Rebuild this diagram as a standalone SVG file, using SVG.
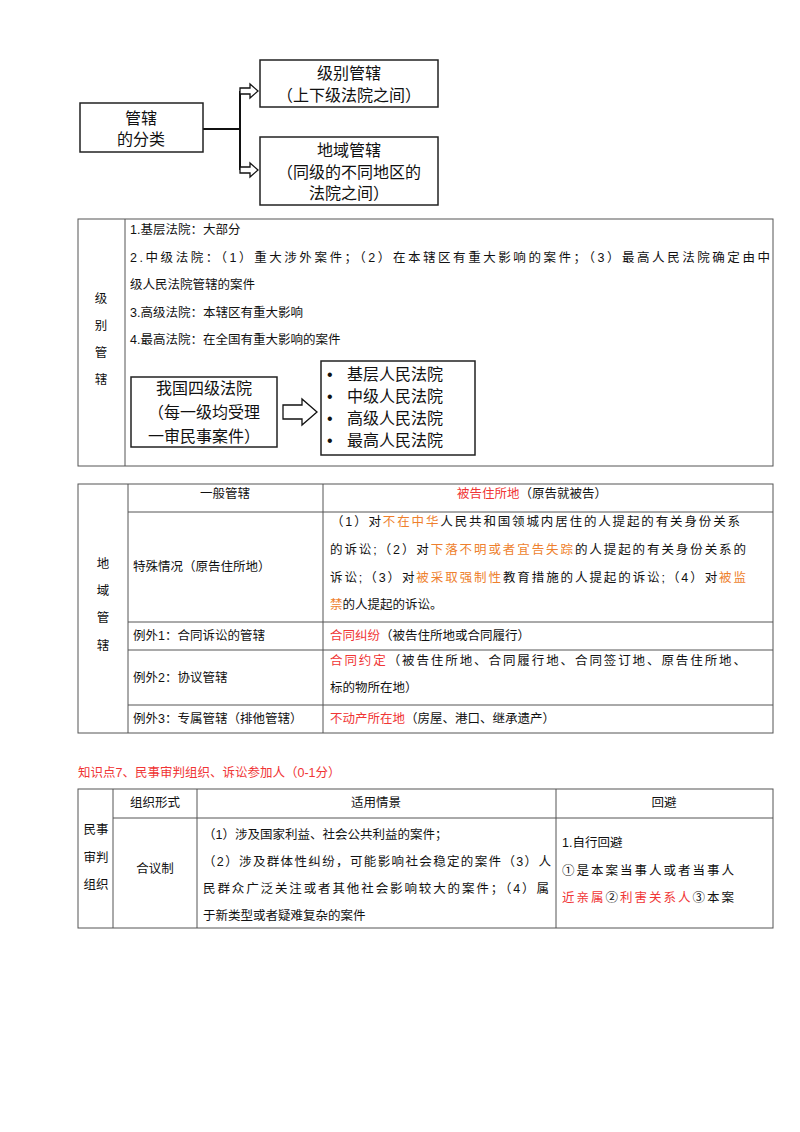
<svg xmlns="http://www.w3.org/2000/svg" width="800" height="1132" viewBox="0 0 800 1132">
<style>
.b{fill:#fff;stroke:#222;stroke-width:1.5}
.t{font-family:"Liberation Sans","Noto Sans CJK SC",sans-serif;fill:#111}
.big{font-size:16px}
.s{font-size:12.5px}
.g{fill:none;stroke:#555;stroke-width:1}
.o{fill:#EE7F2D}
.r{fill:#F03535}
.c{fill:none;stroke:#111;stroke-width:2}
.ar{fill:#fff;stroke:#111;stroke-width:1.3}
</style>
<rect width="800" height="1132" fill="#fff"/>
<g id="connectors">
<path class="c" d="M203 129H240M240 91V170"/>
<path class="ar" d="M240 88H250V84L258 91L250 98V94H240Z"/>
<path class="ar" d="M240 167H250V163L258 170L250 177V173H240Z"/>
</g>
<g id="n1"><rect class="b" x="80" y="103" width="123" height="49"/>
<text class="t big" text-anchor="middle" x="141" y="124">管辖</text><text class="t big" text-anchor="middle" x="141" y="145">的分类</text></g>
<g id="n2"><rect class="b" x="260" y="60" width="178" height="47"/>
<text class="t big" text-anchor="middle" x="349" y="79">级别管辖</text><text class="t big" text-anchor="middle" x="349" y="101">（上下级法院之间）</text></g>
<g id="n3"><rect class="b" x="260" y="137" width="178" height="68"/>
<text class="t big" text-anchor="middle" x="349" y="156">地域管辖</text><text class="t big" text-anchor="middle" x="349" y="178">（同级的不同地区的</text><text class="t big" text-anchor="middle" x="349" y="199">法院之间）</text></g>

<g id="table1">
<rect class="g" x="78" y="219" width="695" height="247"/><path class="g" d="M125 219V466"/>
<g class="t s" text-anchor="middle"><text x="101" y="303">级</text><text x="101" y="330">别</text><text x="101" y="357">管</text><text x="101" y="384">辖</text></g>
<g class="t s"><text x="130" y="234">1.基层法院：大部分</text>
<text x="130" y="262" textLength="640" lengthAdjust="spacing">2.中级法院：（1）重大涉外案件；（2）在本辖区有重大影响的案件；（3）最高人民法院确定由中</text>
<text x="130" y="289">级人民法院管辖的案件</text>
<text x="130" y="317">3.高级法院：本辖区有重大影响</text>
<text x="130" y="344">4.最高法院：在全国有重大影响的案件</text></g>
<rect class="b" x="131" y="377" width="146" height="70"/>
<g class="t big" text-anchor="middle"><text x="204" y="394">我国四级法院</text><text x="204" y="418">（每一级均受理</text><text x="204" y="442">一审民事案件）</text></g>
<path class="ar" d="M283 405H302V399L317 412L302 425V419H283Z"/>
<rect class="b" x="321" y="361" width="154" height="94"/>
<g class="t big"><text x="327" y="380">•</text><text x="327" y="402">•</text><text x="327" y="424">•</text><text x="327" y="446">•</text>
<text x="347" y="380">基层人民法院</text><text x="347" y="402">中级人民法院</text><text x="347" y="424">高级人民法院</text><text x="347" y="446">最高人民法院</text></g>
</g>

<g id="table2">
<rect class="g" x="78" y="484" width="695" height="249"/>
<path class="g" d="M128 484V733M323 484V733M128 512H773M128 622H773M128 650H773M128 705H773"/>
<g class="t s" text-anchor="middle"><text x="103" y="568">地</text><text x="103" y="595">域</text><text x="103" y="622">管</text><text x="103" y="650">辖</text>
<text x="225" y="498">一般管辖</text><text x="532" y="498"><tspan class="r">被告住所地</tspan>（原告就被告）</text></g>
<g class="t s">
<text x="133" y="571">特殊情况（原告住所地）</text>
<text x="331" y="526" textLength="409" lengthAdjust="spacing">（1）对<tspan class="o">不在中华</tspan>人民共和国领城内居住的人提起的有关身份关系</text>
<text x="330" y="554" textLength="416" lengthAdjust="spacing">的诉讼;（2）对<tspan class="o">下落不明或者宜告失踪</tspan>的人提起的有关身份关系的</text>
<text x="330" y="582" textLength="416" lengthAdjust="spacing">诉讼;（3）对<tspan class="o">被采取强制性</tspan>教育措施的人提起的诉讼;（4）对<tspan class="o">被监</tspan></text>
<text x="330" y="609"><tspan class="o">禁</tspan>的人提起的诉讼。</text>
<text x="133" y="640">例外1：合同诉讼的管辖</text>
<text x="330" y="640"><tspan class="r">合同纠纷</tspan>（被告住所地或合同履行）</text>
<text x="133" y="682">例外2：协议管辖</text>
<text x="330" y="665" textLength="416" lengthAdjust="spacing"><tspan class="r">合同约定</tspan>（被告住所地、合同履行地、合同签订地、原告住所地、</text>
<text x="330" y="692">标的物所在地）</text>
<text x="133" y="723">例外3：专属管辖（排他管辖）</text>
<text x="330" y="723"><tspan class="r">不动产所在地</tspan>（房屋、港口、继承遗产）</text>
</g>
</g>

<text class="t s r" x="78" y="777">知识点7、民事审判组织、诉讼参加人（0-1分）</text>

<g id="table3">
<rect class="g" x="78" y="789" width="695" height="139"/>
<path class="g" d="M113 789V928M197 789V928M556 789V928M113 818H773"/>
<g class="t s" text-anchor="middle"><text x="155" y="807">组织形式</text><text x="376" y="807">适用情景</text><text x="664" y="807">回避</text>
<text x="96" y="834">民事</text><text x="96" y="862">审判</text><text x="96" y="889">组织</text><text x="155" y="873">合议制</text></g>
<g class="t s"><text x="203" y="839">（1）涉及国家利益、社会公共利益的案件；</text>
<text x="203" y="866" textLength="348" lengthAdjust="spacing">（2）涉及群体性纠纷，可能影响社会稳定的案件（3）人</text>
<text x="203" y="893" textLength="346" lengthAdjust="spacing">民群众广泛关注或者其他社会影响较大的案件；（4）属</text>
<text x="203" y="920">于新类型或者疑难复杂的案件</text>
<text x="562" y="847">1.自行回避</text>
<text x="562" y="875" textLength="172" lengthAdjust="spacing">①是本案当事人或者当事人</text>
<text x="562" y="902" textLength="172" lengthAdjust="spacing"><tspan class="r">近亲属</tspan>②<tspan class="r">利害关系人</tspan>③本案</text></g>
</g>
</svg>
